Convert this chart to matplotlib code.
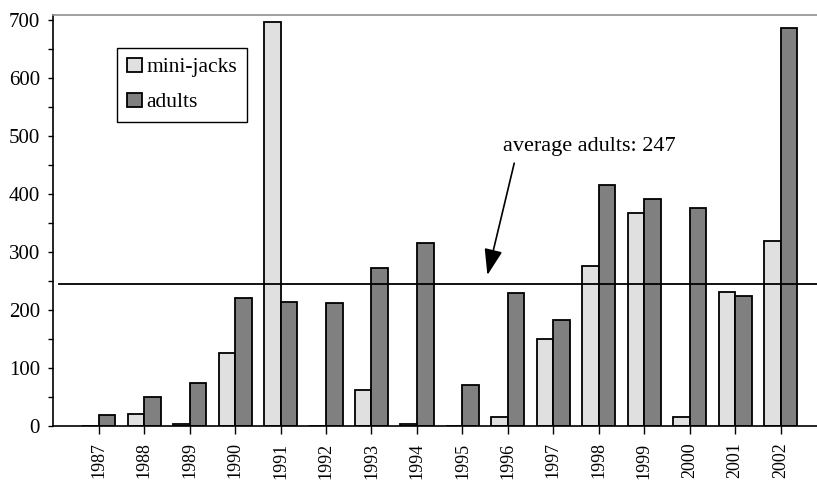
import numpy as np
import matplotlib
matplotlib.use("Agg")
import matplotlib.pyplot as plt
from matplotlib.ticker import MultipleLocator

plt.rcParams['font.family'] = ['Liberation Serif', 'DejaVu Serif']

# Data
years = [1987, 1988, 1989, 1990, 1991, 1992, 1993, 1994,
         1995, 1996, 1997, 1998, 1999, 2000, 2001, 2002]
mini_jacks = [0, 21, 3, 126, 697, 0, 62, 3, 0, 15, 150, 275, 367, 15, 230, 318]
adults = [18, 49, 73, 220, 214, 211, 272, 315, 70, 229, 183, 416, 391, 376, 224, 687]
avg_adults = 247

x = np.array(years)
w = 0.365

fig = plt.figure(figsize=(8.17, 4.8), dpi=100)
ax = fig.add_axes([0.0652, 0.1131, 0.9348, 0.8556])

ax.bar(x - w/2, mini_jacks, w, color='#e0e0e0', edgecolor='black', linewidth=1.3, label='mini-jacks', zorder=2)
ax.bar(x + w/2, adults, w, color='#808080', edgecolor='black', linewidth=1.3, label='adults', zorder=2)

# average line
ax.plot([1986.13, 2002.8], [avg_adults - 2, avg_adults - 2], color='black', lw=1.3, zorder=3)
ax.text(1997.8, 481, 'average adults: 247', ha='center', va='center', fontsize=16)
ax.annotate('', xy=(1995.55, 260), xytext=(1996.14, 453),
            arrowprops=dict(arrowstyle='-|>,head_length=0.8,head_width=0.28', color='black', lw=1.2,
                            mutation_scale=20, shrinkA=0, shrinkB=0))

ax.set_xlim(1986, 2002.8)
ax.set_ylim(0, 708.6)
ax.set_xticks(years)
ax.set_xticklabels([str(y) for y in years], rotation=90, fontsize=13)
ax.yaxis.set_major_locator(MultipleLocator(100))
ax.yaxis.set_minor_locator(MultipleLocator(50))
ax.tick_params(axis='y', which='both', direction='out', length=3.5, width=1, labelsize=15, pad=6)
ax.tick_params(axis='x', direction='out', length=6, width=1, pad=6)

ax.spines['right'].set_visible(False)
ax.spines['top'].set_color('#909090')
ax.spines['top'].set_linewidth(1.2)
ax.spines['left'].set_linewidth(1.2)
ax.spines['bottom'].set_linewidth(1.2)

leg = ax.legend(loc='upper left', bbox_to_anchor=(117/817, 1 - 48/480), bbox_transform=fig.transFigure,
                fontsize=15.5, frameon=True, fancybox=False, edgecolor='black', framealpha=1,
                handlelength=0.7, handleheight=0.65, handletextpad=0.2, labelspacing=0.7,
                borderpad=0.45, borderaxespad=0)
leg.get_frame().set_linewidth(1)

fig.savefig('out.png', dpi=100)
